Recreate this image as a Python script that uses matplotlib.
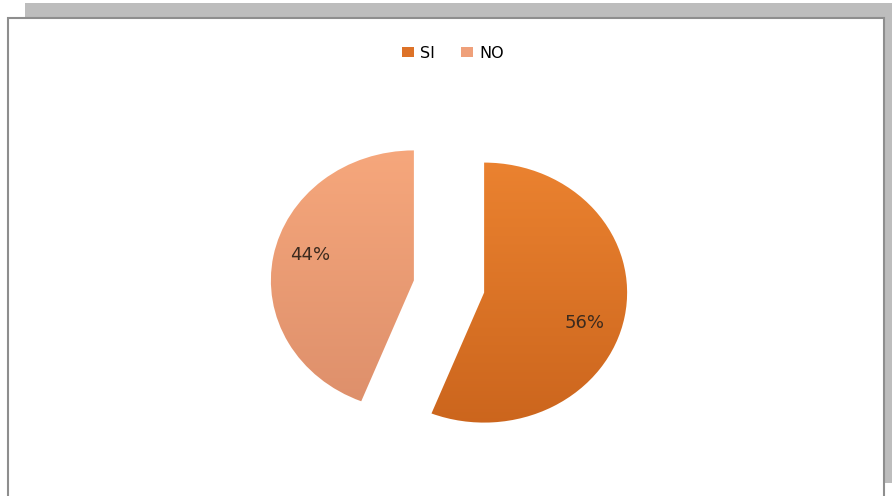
import numpy as np
import matplotlib
matplotlib.use('Agg')
import matplotlib.pyplot as plt
from matplotlib.patches import Rectangle
from matplotlib.colors import LinearSegmentedColormap

labels = ['SI', 'NO']
values = [56, 44]
top_colors = ['#F08733', '#F9AA7E']
bottom_colors = ['#C8621B', '#D98B68']
legend_colors = ['#DD7228', '#EFA07A']

W, H = 892, 496
fig = plt.figure(figsize=(W / 100, H / 100), dpi=100)

# background frame: grey shadow + white box with grey border
bg = fig.add_axes([0, 0, 1, 1])
bg.set_xlim(0, W)
bg.set_ylim(H, 0)
bg.axis('off')
bg.add_patch(Rectangle((25, 3), 867, 480, facecolor='#BDBDBD', edgecolor='none'))
bg.add_patch(Rectangle((8, 18), 876, 490, facecolor='white', edgecolor='#8E8E8E', lw=1.5))

# pie axes: 1 unit = 143 px wide, 130 px tall (slightly stretched pie)
cx, cy = 449, 286.5
rx, ry = 143, 130
span = 1.4
ax_w, ax_h = 2 * span * rx, 2 * span * ry
ax = fig.add_axes([(cx - ax_w / 2) / W, (H - cy - ax_h / 2) / H, ax_w / W, ax_h / H])

wedges, texts, autotexts = ax.pie(values, explode=[0.25, 0.25], startangle=90, counterclock=False,
                                  colors=top_colors, autopct='%d%%', pctdistance=0.75,
                                  textprops=dict(fontsize=13, color='#3B2A1E'))
ax.set_aspect('auto')

# vertical gradient in each slice
for w, c1, c2 in zip(wedges, top_colors, bottom_colors):
    cmap = LinearSegmentedColormap.from_list('g', [c2, c1])
    grad = np.linspace(0, 1, 256).reshape(-1, 1)
    im = ax.imshow(grad, cmap=cmap, extent=[-span, span, -1.3, 1.3], origin='lower',
                   aspect='auto', zorder=w.get_zorder() + 0.1)
    im.set_clip_path(w)
    w.set_facecolor('none')
for t in autotexts:
    t.set_zorder(5)
ax.set_xlim(-span, span)
ax.set_ylim(-span, span)

# nudge data labels to match
autotexts[0].set_position((0.95, -0.28))
autotexts[1].set_position((-0.97, 0.24))

handles = [Rectangle((0, 0), 1, 1, facecolor=c) for c in legend_colors]
fig.legend(handles, labels, loc='center', bbox_to_anchor=(453 / W, 1 - 53 / H), ncol=2,
           frameon=False, fontsize=11.5, handlelength=0.75, handleheight=0.6,
           handletextpad=0.4, columnspacing=1.6)

fig.savefig('out.png', dpi=100)
